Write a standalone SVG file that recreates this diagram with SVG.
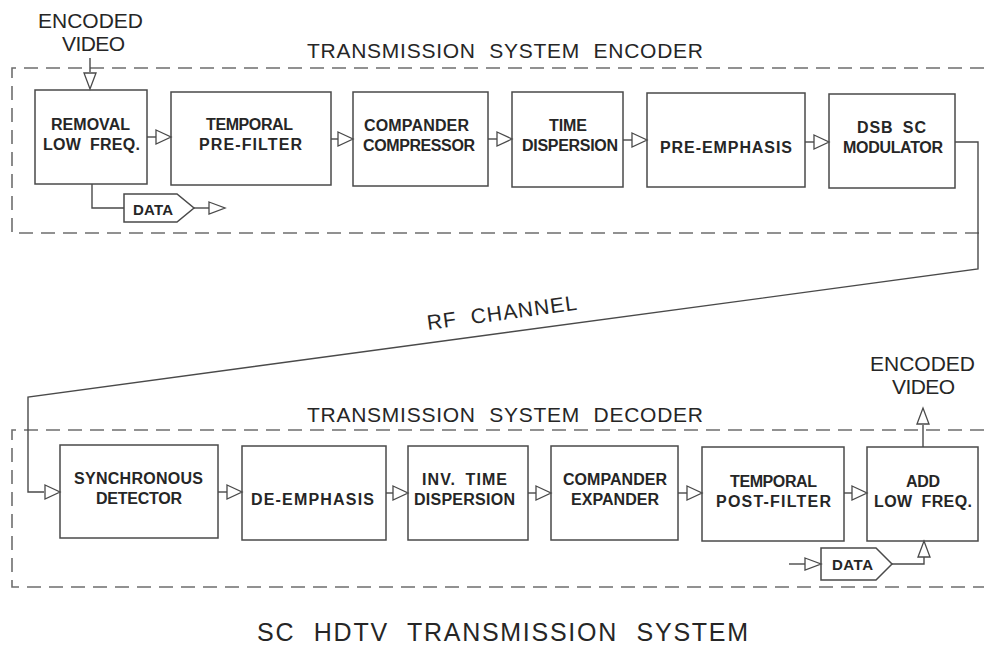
<svg xmlns="http://www.w3.org/2000/svg" xmlns:xlink="http://www.w3.org/1999/xlink" width="984" height="647" viewBox="0 0 984 647">
<style>
.bg{fill:#ffffff}
.blk{fill:#ffffff;stroke:#4a4a4a;stroke-width:1.5}
.dash{fill:none;stroke:#6e6e6e;stroke-width:1.6;stroke-dasharray:14 8}
.ln{fill:none;stroke:#4a4a4a;stroke-width:1.4}
.tri{fill:#ffffff;stroke:#4a4a4a;stroke-width:1.3;stroke-linejoin:miter}
.lbl{font-family:"Liberation Sans",Arial,sans-serif;font-weight:bold;font-size:16px;fill:#262626;word-spacing:4px}
.ttl{font-family:"Liberation Sans",Arial,sans-serif;font-size:21px;fill:#262626;word-spacing:7px}
.big{font-family:"Liberation Sans",Arial,sans-serif;font-size:25px;fill:#262626;word-spacing:10px}
.dat{font-family:"Liberation Sans",Arial,sans-serif;font-weight:bold;font-size:15px;fill:#262626}
</style>
<defs>
<path id="tri" class="tri" d="M0,-7 L15,0 L0,7 Z"/>
<path id="triS" class="tri" d="M0,-6 L16,0 L0,6 Z"/>
</defs>
<rect class="bg" x="0" y="0" width="984" height="647"/>

<g id="frames">
<path class="dash" d="M984,68 L12,68 L12,233 L984,233"/>
<path class="dash" d="M984,430 L12,430 L12,587 L984,587"/>
</g>

<g id="titles">
<text class="ttl" x="38" y="28" textLength="105" lengthAdjust="spacing">ENCODED</text>
<text class="ttl" x="62" y="51" textLength="63" lengthAdjust="spacing">VIDEO</text>
<text class="ttl" x="307" y="58" textLength="396" lengthAdjust="spacing">TRANSMISSION SYSTEM ENCODER</text>
<text class="ttl" x="307" y="422" textLength="396" lengthAdjust="spacing">TRANSMISSION SYSTEM DECODER</text>
<text class="ttl" x="870" y="371" textLength="105" lengthAdjust="spacing">ENCODED</text>
<text class="ttl" x="892" y="394" textLength="63" lengthAdjust="spacing">VIDEO</text>
<text class="ttl" x="428" y="330" textLength="151" lengthAdjust="spacing" transform="rotate(-7.72 428 330)">RF CHANNEL</text>
<text class="big" x="257" y="641" textLength="491" lengthAdjust="spacing">SC HDTV TRANSMISSION SYSTEM</text>
</g>

<g id="n-removal">
<rect class="blk" x="35" y="90" width="112" height="94"/>
<text class="lbl" x="51" y="130" textLength="79" lengthAdjust="spacing">REMOVAL</text>
<text class="lbl" x="43" y="150" textLength="97" lengthAdjust="spacing">LOW FREQ.</text>
</g>
<g id="n-prefilter">
<rect class="blk" x="171" y="92" width="160" height="93"/>
<text class="lbl" x="206" y="130" textLength="87" lengthAdjust="spacing">TEMPORAL</text>
<text class="lbl" x="199" y="150" textLength="103" lengthAdjust="spacing">PRE-FILTER</text>
</g>
<g id="n-compressor">
<rect class="blk" x="353" y="92" width="135" height="94"/>
<text class="lbl" x="364" y="131" textLength="105" lengthAdjust="spacing">COMPANDER</text>
<text class="lbl" x="363" y="151" textLength="112" lengthAdjust="spacing">COMPRESSOR</text>
</g>
<g id="n-timedisp">
<rect class="blk" x="512" y="92" width="111" height="95"/>
<text class="lbl" x="549" y="131" textLength="38" lengthAdjust="spacing">TIME</text>
<text class="lbl" x="522" y="151" textLength="96" lengthAdjust="spacing">DISPERSION</text>
</g>
<g id="n-preemph">
<rect class="blk" x="647" y="93" width="158" height="94"/>
<text class="lbl" x="660" y="153" textLength="132" lengthAdjust="spacing">PRE-EMPHASIS</text>
</g>
<g id="n-dsb">
<rect class="blk" x="829" y="94" width="126" height="94"/>
<text class="lbl" x="857" y="133" textLength="69" lengthAdjust="spacing">DSB SC</text>
<text class="lbl" x="843" y="153" textLength="100" lengthAdjust="spacing">MODULATOR</text>
</g>
<g id="n-data-enc">
<path class="blk" d="M124,194 L177,194 L194,208 L177,222 L124,222 Z"/>
<text class="dat" x="133" y="215" textLength="40" lengthAdjust="spacing">DATA</text>
</g>

<g id="n-sync">
<rect class="blk" x="60" y="445" width="158" height="93"/>
<text class="lbl" x="74" y="484" textLength="129" lengthAdjust="spacing">SYNCHRONOUS</text>
<text class="lbl" x="96" y="504" textLength="86" lengthAdjust="spacing">DETECTOR</text>
</g>
<g id="n-deemph">
<rect class="blk" x="242" y="446" width="144" height="94"/>
<text class="lbl" x="251" y="505" textLength="123" lengthAdjust="spacing">DE-EMPHASIS</text>
</g>
<g id="n-invtime">
<rect class="blk" x="408" y="446" width="120" height="94"/>
<text class="lbl" x="422" y="485" textLength="85" lengthAdjust="spacing">INV. TIME</text>
<text class="lbl" x="414" y="505" textLength="101" lengthAdjust="spacing">DISPERSION</text>
</g>
<g id="n-expander">
<rect class="blk" x="551" y="446" width="127" height="94"/>
<text class="lbl" x="563" y="485" textLength="104" lengthAdjust="spacing">COMPANDER</text>
<text class="lbl" x="571" y="505" textLength="88" lengthAdjust="spacing">EXPANDER</text>
</g>
<g id="n-postfilter">
<rect class="blk" x="702" y="447" width="142" height="94"/>
<text class="lbl" x="730" y="487" textLength="87" lengthAdjust="spacing">TEMPORAL</text>
<text class="lbl" x="716" y="507" textLength="115" lengthAdjust="spacing">POST-FILTER</text>
</g>
<g id="n-addlow">
<rect class="blk" x="867" y="447" width="111" height="94"/>
<text class="lbl" x="906" y="487" textLength="34" lengthAdjust="spacing">ADD</text>
<text class="lbl" x="874" y="507" textLength="98" lengthAdjust="spacing">LOW FREQ.</text>
</g>
<g id="n-data-dec">
<path class="blk" d="M821,548 L876,548 L892,564 L876,580 L821,580 Z"/>
<text class="dat" x="832" y="570" textLength="41" lengthAdjust="spacing">DATA</text>
</g>

<g id="connectors">
<path class="ln" d="M90,58 L90,72"/>
<use xlink:href="#triS" transform="translate(90,73) rotate(90)"/>
<path class="ln" d="M147,137 L156,137"/>
<use xlink:href="#tri" x="156" y="137"/>
<path class="ln" d="M331,139 L338,139"/>
<use xlink:href="#tri" x="338" y="139"/>
<path class="ln" d="M488,139 L497,139"/>
<use xlink:href="#tri" x="497" y="139"/>
<path class="ln" d="M623,140 L632,140"/>
<use xlink:href="#tri" x="632" y="140"/>
<path class="ln" d="M805,142 L814,142"/>
<use xlink:href="#tri" x="814" y="142"/>
<path class="ln" d="M92,184 L92,208 L124,208"/>
<path class="ln" d="M194,208 L209,208"/>
<use xlink:href="#triS" x="209" y="208"/>
<path class="ln" d="M955,142 L978,142 L978,269 L28,397 L28,492 L44,492"/>
<use xlink:href="#tri" x="45" y="492"/>
<path class="ln" d="M218,492 L227,492"/>
<use xlink:href="#tri" x="227" y="492"/>
<path class="ln" d="M386,493 L393,493"/>
<use xlink:href="#tri" x="393" y="493"/>
<path class="ln" d="M528,493 L536,493"/>
<use xlink:href="#tri" x="536" y="493"/>
<path class="ln" d="M678,493 L687,493"/>
<use xlink:href="#tri" x="687" y="493"/>
<path class="ln" d="M844,493 L852,493"/>
<use xlink:href="#tri" x="852" y="493"/>
<path class="ln" d="M923,447 L923,425"/>
<use xlink:href="#triS" transform="translate(923,424) rotate(-90)"/>
<path class="ln" d="M789,564 L805,564"/>
<use xlink:href="#triS" x="805" y="564"/>
<path class="ln" d="M892,564 L924,564 L924,557"/>
<use xlink:href="#triS" transform="translate(924,557) rotate(-90)"/>
</g>
</svg>
